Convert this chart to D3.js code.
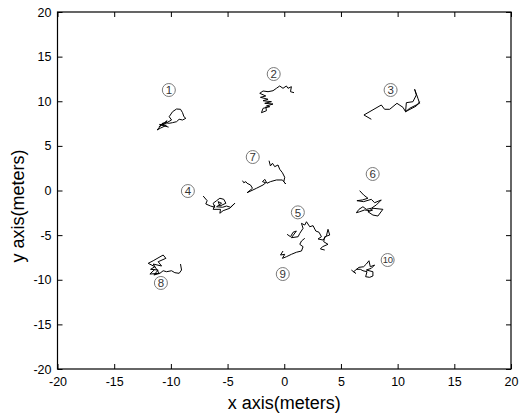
<!DOCTYPE html>
<html><head><meta charset="utf-8">
<script src="https://cdn.jsdelivr.net/npm/d3@7"></script>
<style>body{margin:0;background:#fff}svg{display:block}</style>
</head><body>
<svg id="c" width="519" height="415"></svg>
<script>
const xTicks = [-20,-15,-10,-5,0,5,10,15,20];
const yTicks = [-20,-15,-10,-5,0,5,10,15,20];
const labelNames = ["1","2","3","4","5","6","7","8","9","10"];
const labelX = [-10.18,-0.93,9.38,-8.5,1.2,7.8,-2.78,-10.88,-0.13,9.12];
const labelY = [11.26,13.05,11.26,-0.06,-2.45,1.85,3.75,-10.36,-9.36,-7.79];

const t1 = [[-10.2,7.1],[-11.0,7.4],[-10.4,7.3],[-10.9,7.0],[-11.21,6.78],[-10.68,7.60],[-11.03,7.15],[-10.33,7.82],[-10.73,7.34],[-9.94,7.90],[-10.15,8.27],[-9.85,8.83],[-9.50,9.13],[-9.15,9.10],[-8.97,8.72],[-8.85,8.27],[-8.68,8.09],[-8.97,7.90],[-9.27,7.98],[-9.50,7.71],[-9.85,7.60],[-10.15,7.53],[-10.53,7.60]];
const t2 = [[0.86,10.96],[0.55,11.07],[0.63,11.63],[0.33,11.45],[0.19,11.71],[-0.11,11.45],[-0.40,11.71],[-0.69,11.45],[-0.99,11.18],[-1.43,11.07],[-1.87,11.15],[-2.16,10.89],[-1.63,10.59],[-2.10,10.44],[-1.43,10.22],[-1.87,10.06],[-1.13,9.95],[-1.72,9.77],[-0.99,9.69],[-1.57,9.47],[-1.28,9.39],[-1.87,9.21],[-2.01,8.72],[-1.57,8.94],[-1.63,9.39]];
const t3 = [[7.68,7.98],[7.03,8.46],[8.56,9.58],[8.85,9.10],[9.30,9.10],[9.94,9.77],[10.47,9.32],[10.70,8.83],[10.77,9.84],[11.35,9.95],[11.65,10.70],[11.50,11.34],[11.79,10.33],[11.94,9.77],[11.06,9.21],[10.70,8.83],[11.65,9.47],[11.94,9.95]];
const t4 = [[-7.15,-0.62],[-6.80,-1.14],[-6.92,-1.51],[-6.50,-1.74],[-6.12,-1.88],[-6.27,-1.43],[-5.97,-1.14],[-5.68,-0.87],[-5.33,-0.99],[-5.15,-1.43],[-5.68,-1.74],[-5.83,-1.25],[-5.53,-1.43],[-5.97,-1.82],[-5.44,-1.88],[-5.09,-1.74],[-4.74,-1.88],[-4.36,-1.43],[-4.80,-1.99],[-5.39,-2.26],[-5.68,-2.55],[-5.62,-2.11],[-6.27,-2.11],[-6.12,-1.62]];
const t5 = [[0.25,-4.91],[0.55,-5.18],[0.78,-4.68],[1.07,-4.54],[0.63,-5.29],[1.22,-5.18],[1.37,-4.80],[1.66,-4.24],[1.52,-3.68],[1.81,-3.87],[1.96,-3.50],[2.25,-4.06],[2.54,-3.94],[2.78,-4.54],[3.07,-4.68],[3.28,-5.18],[2.98,-5.43],[3.42,-5.55],[3.72,-5.06],[3.86,-4.35],[4.01,-4.99],[3.57,-5.18],[3.48,-5.74],[3.86,-6.03],[3.37,-6.30],[3.19,-6.55],[3.57,-6.67]];
const t6 = [[6.65,-0.02],[7.00,-0.50],[7.38,-0.87],[6.89,-1.06],[6.41,-1.14],[7.00,-1.25],[7.68,-0.99],[7.97,-1.37],[8.56,-1.06],[8.12,-1.62],[7.68,-1.99],[7.24,-2.11],[6.94,-1.82],[6.59,-2.11],[6.36,-2.49],[6.65,-2.38],[7.09,-2.18],[7.53,-2.26],[7.82,-1.99],[8.70,-2.11],[8.26,-2.86],[7.82,-2.75],[7.38,-2.38],[7.82,-2.18]];
const t7 = [[-1.34,3.34],[-1.22,2.75],[-1.04,3.05],[-0.84,2.67],[-0.55,2.86],[-0.40,2.38],[-0.16,1.99],[0.04,1.48],[-0.04,0.99],[0.13,0.73],[-0.16,1.18],[-0.69,1.18],[-1.22,0.99],[-1.52,0.81],[-1.72,1.25],[-1.92,0.99],[-1.63,0.87],[-1.87,0.62],[-2.45,0.25],[-3.28,-0.25],[-2.80,0.25],[-2.98,0.62],[-3.28,0.81],[-3.39,0.99],[-3.57,0.87],[-3.68,1.10]];
const t8 = [[-9.15,-8.24],[-9.06,-8.91],[-9.27,-9.28],[-9.65,-9.21],[-9.94,-8.99],[-10.38,-9.10],[-10.68,-8.99],[-10.97,-9.28],[-11.50,-9.47],[-11.12,-8.91],[-11.79,-8.83],[-11.41,-8.54],[-12.00,-8.16],[-11.56,-7.87],[-10.68,-7.23],[-10.44,-7.60],[-11.12,-7.98],[-10.82,-8.46],[-11.56,-8.24],[-11.03,-9.28],[-11.85,-9.36],[-11.41,-8.83]];
const t9 = [[-0.11,-6.78],[-0.33,-7.23],[0.04,-7.15],[-0.16,-7.60],[0.19,-7.42],[0.63,-7.15],[1.07,-6.92],[1.52,-6.78],[1.66,-6.30],[1.37,-6.03],[1.52,-5.66],[1.81,-5.36]];
const t10 = [[5.92,-8.91],[6.30,-9.28],[6.12,-9.10],[6.59,-8.61],[7.00,-8.54],[7.24,-8.24],[7.47,-7.87],[7.59,-8.54],[7.97,-8.35],[7.68,-8.72],[7.24,-8.91],[7.82,-9.10],[7.82,-9.58],[7.53,-9.73],[7.18,-9.66],[7.30,-9.10],[6.94,-8.99],[6.71,-8.83],[6.36,-8.83]];
const trajectories = [t1,t2,t3,t4,t5,t6,t7,t8,t9,t10];

const L = 57.5, R = 511, T = 12, B = 369;
const x = d3.scaleLinear().domain([-20,20]).range([L,R]);
const y = d3.scaleLinear().domain([-20,20]).range([B,T]);
const svg = d3.select("#c");
const font = "Liberation Sans, Arial, Helvetica, sans-serif";

const line = d3.line().x(d=>x(d[0])).y(d=>y(d[1]));
svg.append("g").selectAll("path").data(trajectories).join("path")
  .attr("d", line).attr("fill","none").attr("stroke","#000").attr("stroke-width",1);

// labels
const lg = svg.append("g").selectAll("g").data(labelNames).join("g")
  .attr("transform",(d,i)=>`translate(${x(labelX[i])},${y(labelY[i])})`);
lg.append("circle").attr("r",6.5).attr("fill","#fff").attr("stroke","#7a7a7a").attr("stroke-width",1);
lg.append("text").text(d=>d).attr("text-anchor","middle").attr("dy","0.36em")
  .attr("font-family",font).attr("font-size",d=>d.length>1?"9.5px":"11.5px").attr("fill","#333")
  .attr("letter-spacing",d=>d.length>1?"-0.5px":"0");

function styleAxis(g){
  g.select(".domain").remove();
  g.selectAll(".tick line").attr("stroke","#000");
  g.selectAll("text").attr("font-family",font).attr("font-size","12.5px").attr("fill","#000");
}
const fmt = d=>String(d);
svg.append("g").attr("transform",`translate(0,${B})`)
  .call(d3.axisBottom(x).tickValues(xTicks).tickFormat(fmt).tickSize(-5).tickPadding(8)).call(styleAxis);
svg.append("g").attr("transform",`translate(0,${T})`)
  .call(d3.axisTop(x).tickValues(xTicks).tickFormat("").tickSize(-5)).call(styleAxis);
svg.append("g").attr("transform",`translate(${L},0)`)
  .call(d3.axisLeft(y).tickValues(yTicks).tickFormat(fmt).tickSize(-5).tickPadding(6)).call(styleAxis);
svg.append("g").attr("transform",`translate(${R},0)`)
  .call(d3.axisRight(y).tickValues(yTicks).tickFormat("").tickSize(-5)).call(styleAxis);

svg.append("rect").attr("x",L).attr("y",T).attr("width",R-L).attr("height",B-T)
  .attr("fill","none").attr("stroke","#000").attr("stroke-width",1.2);

svg.append("text").text("x axis(meters)").attr("x",(L+R)/2).attr("y",409)
  .attr("text-anchor","middle").attr("font-family",font).attr("font-size","18px");
svg.append("text").text("y axis(meters)")
  .attr("transform",`translate(24,206) rotate(-90)`)
  .attr("text-anchor","middle").attr("font-family",font).attr("font-size","18px");
</script>
</body></html>
